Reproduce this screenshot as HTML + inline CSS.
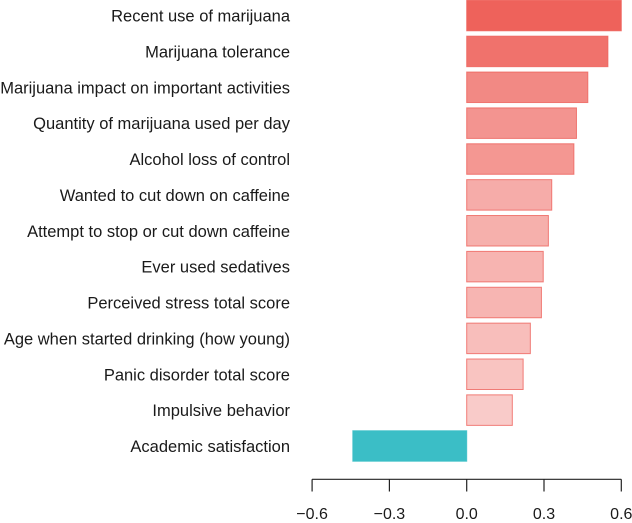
<!DOCTYPE html>
<html><head><meta charset="utf-8"><style>
body{margin:0;background:#fff}
svg{display:block;font-family:"Liberation Sans",Arial,sans-serif}
</style></head><body>
<svg id="chart" width="632" height="523"></svg>
<script>
const categories=["Recent use of marijuana","Marijuana tolerance","Marijuana impact on important activities","Quantity of marijuana used per day","Alcohol loss of control ","Wanted to cut down on caffeine","Attempt to stop or cut down caffeine","Ever used sedatives","Perceived stress total score","Age when started drinking (how young)","Panic disorder total score","Impulsive behavior","Academic satisfaction"];
const values=[0.60,0.548,0.47,0.426,0.416,0.33,0.317,0.297,0.29,0.247,0.219,0.177,-0.442];
const tickValues=[-0.6,-0.3,0.0,0.3,0.6];
const tickLabels=["\u22120.6","\u22120.3","0.0","0.3","0.6"];
const NS="http://www.w3.org/2000/svg";
const svg=document.getElementById('chart');
const x=v=>466.7+v*(621.3-466.7)/0.6;
const yTop=i=>0.3+i*35.87;
const bh=30.5;
function mk(t,a){const e=document.createElementNS(NS,t);for(const k in a)e.setAttribute(k,a[k]);svg.appendChild(e);return e;}
const maxV=Math.max(...values);
values.forEach((v,i)=>{
  const x0=Math.min(x(0),x(v)),w=Math.abs(x(v)-x(0));
  let fill,stroke,op;
  if(v>=0){fill="#EE625B";stroke="#EE625B";op=0.2+0.8*Math.pow(v/maxV,1.5);}
  else{fill="#3BBEC6";stroke="#3BBEC6";op=1;}
  const r=mk('rect',{x:x0,y:yTop(i),width:w,height:bh,fill:fill,'fill-opacity':op,stroke:stroke,'stroke-opacity':0.8,'stroke-width':1});
  
  
  const t=mk('text',{x:290,y:yTop(i)+bh/2+6,'text-anchor':'end','font-size':16.5,fill:'#1a1a1a'});
  t.textContent=categories[i];
  
  
});
const ax=mk('line',{x1:x(-0.6),x2:x(0.6),y1:479.3,y2:479.3,stroke:'#222','stroke-width':1.2});


tickValues.forEach((v,i)=>{
  const tk=mk('line',{x1:x(v),x2:x(v),y1:479.3,y2:491.5,stroke:'#222','stroke-width':1.2});
  
  
  const t=mk('text',{x:x(v),y:519,'text-anchor':'middle','font-size':16,fill:'#1a1a1a'});
  t.textContent=tickLabels[i];
  
  
});
</script>
</body></html>
